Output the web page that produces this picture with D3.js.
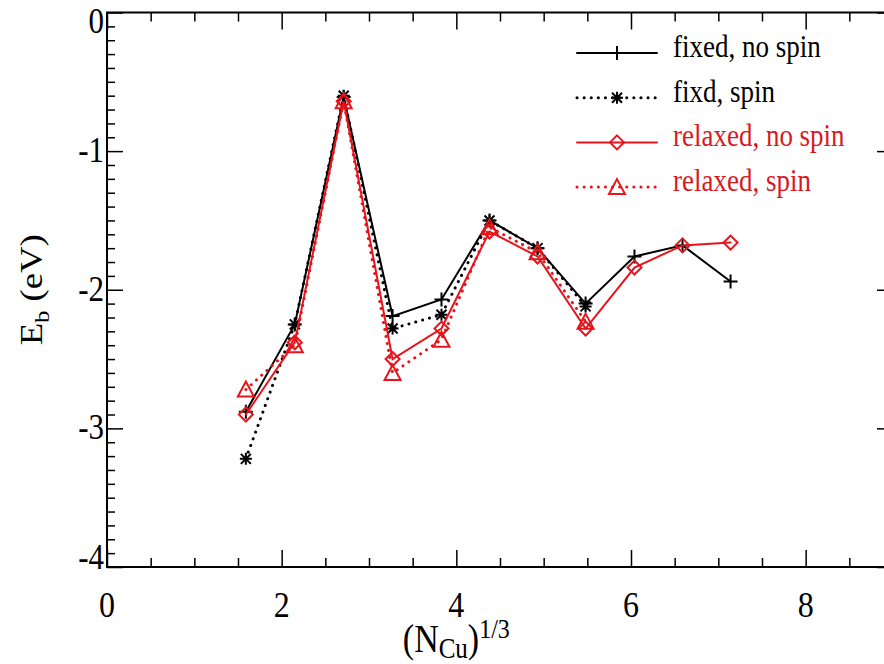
<!DOCTYPE html>
<html lang="en">
<head>
  <meta charset="UTF-8">
  <title>Binding energy vs cluster size</title>
  <script src="https://cdn.jsdelivr.net/npm/d3@7/dist/d3.min.js"></script>
  <style>
    body { margin: 0; background: #fff; }
  </style>
</head>
<body>
  <div id="chart"></div>
  <script>
    // (N_Cu)^(1/3) values
    const xVals = [1.59, 2.15, 2.71, 3.27, 3.83, 4.38, 4.93, 5.48, 6.04, 6.59, 7.14];

    const fixedNoSpin   = [-2.88, -2.25, -0.61, -2.19, -2.07, -1.50, -1.70, -2.10, -1.76, -1.68, -1.94];
    const fixedSpin     = [-3.22, -2.25, -0.60, -2.28, -2.18, -1.50, -1.70, -2.12];
    const relaxedNoSpin = [-2.90, -2.38, -0.64, -2.50, -2.28, -1.58, -1.76, -2.28, -1.84, -1.68, -1.66];
    const relaxedSpin   = [-2.72, -2.40, -0.64, -2.60, -2.36, -1.55, -1.73, -2.23];

    const xTicks = [0, 2, 4, 6, 8];
    const yTicks = [-4, -3, -2, -1, 0];
    const legendLabels = ["fixed, no spin", "fixd, spin", "relaxed, no spin", "relaxed, spin"];

    const width = 884, height = 664;
    const RED = "#e8141b";
    const FONT = "'Liberation Serif', 'Times New Roman', serif";
    const STRETCH = 1.15; // the picture's text is a bit taller than wide

    const svg = d3.select("#chart").append("svg")
      .attr("width", width)
      .attr("height", height)
      .attr("font-family", FONT);

    const x = d3.scaleLinear().domain([0, 9]).range([107, 893]);
    const y = d3.scaleLinear().domain([-4, 0]).range([567, 12.5]);

    const xMinor = d3.range(0, 9.01, 0.5).filter(v => !xTicks.includes(v));
    const yMinor = d3.range(-4, 0.001, 0.1).map(v => +v.toFixed(1)).filter(v => !yTicks.includes(v));

    // box axes with inward ticks, IDL style
    function drawAxis(axisFn, scale, ticks, size, tx, ty) {
      const g = svg.append("g").attr("transform", `translate(${tx},${ty})`)
        .call(axisFn(scale).tickValues(ticks).tickSize(-size).tickFormat(""));
      g.select(".domain").remove();
      g.selectAll("text").remove();
      g.selectAll("line").attr("stroke", "#000").attr("stroke-width", 1.5);
      return g;
    }

    drawAxis(d3.axisBottom, x, xTicks, 17, 0, y(-4));
    drawAxis(d3.axisBottom, x, xMinor, 9, 0, y(-4));
    drawAxis(d3.axisTop, x, xTicks, 17, 0, y(0));
    drawAxis(d3.axisTop, x, xMinor, 9, 0, y(0));
    drawAxis(d3.axisLeft, y, yTicks, 16, x(0), 0);
    drawAxis(d3.axisLeft, y, yMinor, 8, x(0), 0);
    drawAxis(d3.axisRight, y, yTicks, 16, x(9), 0);
    drawAxis(d3.axisRight, y, yMinor, 8, x(9), 0);

    svg.append("rect")
      .attr("x", x(0)).attr("y", y(0))
      .attr("width", x(9) - x(0)).attr("height", y(-4) - y(0))
      .attr("fill", "none").attr("stroke", "#000").attr("stroke-width", 2);

    // tick labels
    svg.append("g").selectAll("text")
      .data(xTicks)
      .join("text")
      .attr("transform", d => `translate(${x(d)},${y(-4) + 50}) scale(1,${STRETCH})`)
      .attr("text-anchor", "middle")
      .style("font-size", "32px")
      .text(d => d);

    svg.append("g").selectAll("text")
      .data(yTicks)
      .join("text")
      .attr("transform", d => {
        const off = d === 0 ? 20 : d === -4 ? 2 : 11;
        return `translate(${x(0) - 3},${y(d) + off}) scale(1,${STRETCH})`;
      })
      .attr("text-anchor", "end")
      .style("font-size", "31px")
      .text(d => String(d));

    // axis titles
    const yTitle = svg.append("text")
      .attr("transform", `translate(42,${(y(0) + y(-4)) / 2}) scale(1,${STRETCH}) rotate(-90)`)
      .attr("text-anchor", "middle")
      .style("font-size", "32px");
    yTitle.append("tspan").text("E");
    yTitle.append("tspan").attr("dy", 7).style("font-size", "21px").text("b");
    yTitle.append("tspan").attr("dy", -7).text(" (eV)");

    const xTitle = svg.append("text")
      .attr("transform", `translate(${x(4)},652) scale(1,${STRETCH})`)
      .attr("text-anchor", "middle")
      .style("font-size", "34px");
    xTitle.append("tspan").text("(N");
    xTitle.append("tspan").attr("dy", 5).style("font-size", "25px").text("Cu");
    xTitle.append("tspan").attr("dy", -5).text(")");
    xTitle.append("tspan").attr("dy", -12).style("font-size", "24px").text("1/3");

    // marker shapes
    const markers = {
      plus: "M-7,0H7M0,-7V7",
      star: "M-6,0H6M0,-6V6M-5,-5L5,5M-5,5L5,-5",
      diamond: "M0,-7L7,0L0,7L-7,0Z",
      triangle: "M0,-8L8,7H-8Z"
    };

    const series = [
      { values: fixedNoSpin, color: "#000", dash: null, marker: "plus" },
      { values: fixedSpin, color: "#000", dash: "0.1,7", marker: "star" },
      { values: relaxedNoSpin, color: RED, dash: null, marker: "diamond" },
      { values: relaxedSpin, color: RED, dash: "0.1,7", marker: "triangle" }
    ];

    const line = d3.line().x(d => x(d[0])).y(d => y(d[1]));

    series.forEach(s => {
      const pts = s.values.map((v, i) => [xVals[i], v]);
      svg.append("path")
        .datum(pts)
        .attr("d", line)
        .attr("fill", "none")
        .attr("stroke", s.color)
        .attr("stroke-width", s.dash ? 3 : 2)
        .attr("stroke-linecap", "round")
        .attr("stroke-dasharray", s.dash);
      svg.append("g").selectAll("path")
        .data(pts)
        .join("path")
        .attr("transform", d => `translate(${x(d[0])},${y(d[1])})`)
        .attr("d", markers[s.marker])
        .attr("fill", "none")
        .attr("stroke", s.color)
        .attr("stroke-width", 2);
    });

    // legend
    const legend = svg.append("g").attr("transform", "translate(577,53)");
    series.forEach((s, i) => {
      const row = legend.append("g").attr("transform", `translate(0,${i * 44.7})`);
      row.append("line")
        .attr("x1", 0).attr("x2", 80)
        .attr("stroke", s.color)
        .attr("stroke-width", s.dash ? 3 : 2)
        .attr("stroke-linecap", "round")
        .attr("stroke-dasharray", s.dash);
      row.append("path")
        .attr("transform", "translate(40,0)")
        .attr("d", markers[s.marker])
        .attr("fill", "none")
        .attr("stroke", s.color)
        .attr("stroke-width", 2);
      row.append("text")
        .attr("transform", `translate(96,4) scale(1,${STRETCH})`)
        .attr("fill", s.color === "#000" ? "#000" : "#d7191f")
        .style("font-size", "27px")
        .text(legendLabels[i]);
    });
  </script>
</body>
</html>
